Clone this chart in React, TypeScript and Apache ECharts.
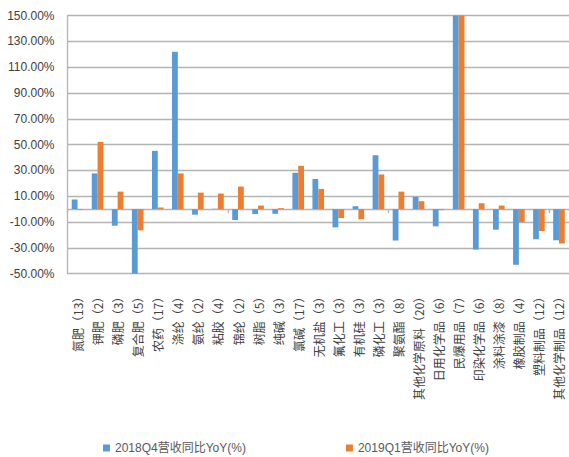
import React, { useEffect, useRef } from "react";
import * as echarts from "echarts";

// Sub-industries with the number of listed companies in brackets
const categories: string[] = [
  "氮肥（13）", "钾肥（2）", "磷肥（3）", "复合肥（5）", "农药（17）",
  "涤纶（4）", "氨纶（2）", "粘胶（4）", "锦纶（2）", "树脂（5）",
  "纯碱（3）", "氯碱（17）", "无机盐（3）", "氟化工（3）", "有机硅（3）",
  "磷化工（3）", "聚氨酯（8）", "其他化学原料（20）", "日用化学品（6）", "民爆用品（7）",
  "印染化学品（6）", "涂料涂漆（8）", "橡胶制品（4）", "塑料制品（12）", "其他化学制品（12）",
];

// Revenue growth, year over year, in %
const yoy2018Q4: number[] = [
  7.5, 27.7, -12.8, -51.5, 45.2,
  122.0, -4.3, 0.3, -8.4, -3.8,
  -3.6, 28.2, 23.4, -14.1, 2.3,
  41.8, -24.3, 9.5, -13.3, 190.0,
  -31.3, -15.9, -43.1, -23.3, -24.1,
];
const yoy2019Q1: number[] = [
  -0.5, 52.1, 13.6, -16.4, 1.3,
  27.7, 12.8, 12.1, 17.5, 2.8,
  0.8, 33.6, 15.7, -6.9, -7.7,
  26.9, 13.6, 6.2, -0.7, 210.0,
  4.6, 2.8, -10.0, -16.9, -26.6,
];

const seriesNames: string[] = ["2018Q4营收同比YoY(%)", "2019Q1营收同比YoY(%)"];

// Y axis: labelled gridlines every 20 points from -50 to 150
const yMin = -50;
const yMax = 150;
const yStep = 10;
const yLabelStep = 20;

const GRID_COLOR = "#b4b4b4";
const TEXT_COLOR = "#404040";

export default function App() {
  const ref = useRef<HTMLDivElement>(null);

  useEffect(() => {
    if (!ref.current) return;
    const chart = echarts.init(ref.current, null, { renderer: "svg" });
    chart.setOption({
      animation: false,
      grid: { left: 67.5, right: -3, top: 15.6, bottom: 183.3, containLabel: false },
      legend: {
        data: seriesNames,
        left: 103,
        top: 441,
        padding: 0,
        icon: "rect",
        itemWidth: 7,
        itemHeight: 7,
        itemGap: 100,
        textStyle: {
          fontSize: 12,
          color: "#595959",
          fontFamily: "'Liberation Sans', 'Noto Sans CJK SC', sans-serif",
          lineHeight: 14,
        },
      },
      xAxis: [
        {
          type: "category",
          data: categories,
          position: "bottom",
          axisLine: { show: true, onZero: true, lineStyle: { color: GRID_COLOR, width: 1.3 } },
          axisTick: { show: true, length: 4, lineStyle: { color: GRID_COLOR, width: 1.3 } },
          axisLabel: { show: false },
          splitLine: { show: false },
        },
        {
          type: "category",
          data: categories,
          position: "bottom",
          axisLine: { show: false, onZero: false },
          axisTick: { show: false },
          splitLine: { show: false },
          axisLabel: {
            show: true,
            interval: 0,
            rotate: 90,
            margin: 17,
            fontSize: 12,
            color: TEXT_COLOR,
            fontFamily: "'Noto Sans CJK SC', sans-serif",
          },
        },
      ],
      yAxis: {
        type: "value",
        min: yMin,
        max: yMax,
        interval: yStep,
        axisLine: { show: true, lineStyle: { color: GRID_COLOR, width: 1.3 } },
        axisTick: { show: false },
        axisLabel: {
          margin: 13,
          fontSize: 12,
          color: TEXT_COLOR,
          fontFamily: "'Liberation Sans', sans-serif",
          formatter: (v: number) =>
            (v - yMin) % yLabelStep === 0 ? v.toFixed(2) + "%" : "",
        },
        splitLine: {
          show: true,
          lineStyle: { color: [GRID_COLOR, "rgba(0,0,0,0)"], width: 1.3 },
        },
      },
      series: [
        {
          name: seriesNames[0],
          type: "bar",
          data: yoy2018Q4,
          barWidth: 5.8,
          barGap: "0%",
          clip: true,
          itemStyle: { color: "#5b9bd5" },
        },
        {
          name: seriesNames[1],
          type: "bar",
          data: yoy2019Q1,
          barWidth: 5.8,
          barGap: "0%",
          clip: true,
          itemStyle: { color: "#ed7d31" },
        },
      ],
    });
    return () => chart.dispose();
  }, []);

  return (
    <div
      ref={ref}
      style={{ position: "fixed", left: 0, top: 0, width: 569, height: 457, background: "#ffffff" }}
    />
  );
}
